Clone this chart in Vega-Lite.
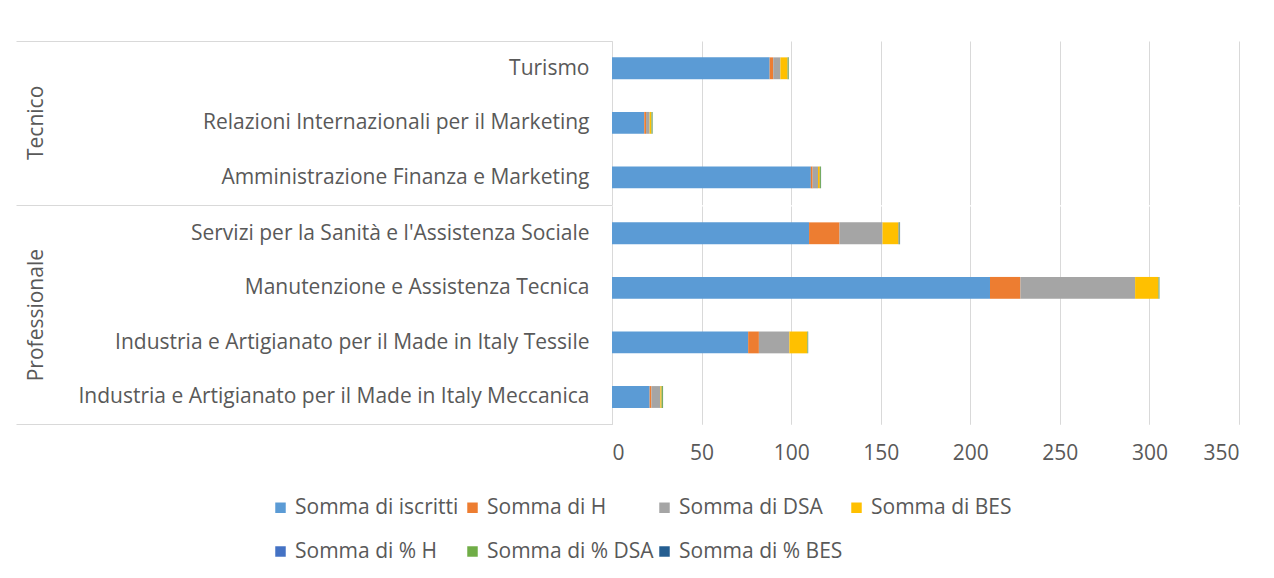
{
  "$schema": "https://vega.github.io/schema/vega-lite/v6.json",
  "background": "white",
  "padding": {"left": 15, "top": 40, "right": 18, "bottom": 0},
  "config": {"view": {"stroke": null}, "font": "Open Sans"},
  "data": {"values": [
    {"group": "Tecnico", "cat": "Turismo", "series": "Somma di iscritti", "value": 88},
    {"group": "Tecnico", "cat": "Turismo", "series": "Somma di H", "value": 2},
    {"group": "Tecnico", "cat": "Turismo", "series": "Somma di DSA", "value": 4},
    {"group": "Tecnico", "cat": "Turismo", "series": "Somma di BES", "value": 4},
    {"group": "Tecnico", "cat": "Turismo", "series": "Somma di % H", "value": 0.1},
    {"group": "Tecnico", "cat": "Turismo", "series": "Somma di % DSA", "value": 0.5},
    {"group": "Tecnico", "cat": "Turismo", "series": "Somma di % BES", "value": 0.1},
    {"group": "Tecnico", "cat": "Relazioni Internazionali per il Marketing", "series": "Somma di iscritti", "value": 18},
    {"group": "Tecnico", "cat": "Relazioni Internazionali per il Marketing", "series": "Somma di H", "value": 1},
    {"group": "Tecnico", "cat": "Relazioni Internazionali per il Marketing", "series": "Somma di DSA", "value": 2},
    {"group": "Tecnico", "cat": "Relazioni Internazionali per il Marketing", "series": "Somma di BES", "value": 1},
    {"group": "Tecnico", "cat": "Relazioni Internazionali per il Marketing", "series": "Somma di % H", "value": 0.1},
    {"group": "Tecnico", "cat": "Relazioni Internazionali per il Marketing", "series": "Somma di % DSA", "value": 0.5},
    {"group": "Tecnico", "cat": "Relazioni Internazionali per il Marketing", "series": "Somma di % BES", "value": 0.1},
    {"group": "Tecnico", "cat": "Amministrazione Finanza e Marketing", "series": "Somma di iscritti", "value": 111},
    {"group": "Tecnico", "cat": "Amministrazione Finanza e Marketing", "series": "Somma di H", "value": 1},
    {"group": "Tecnico", "cat": "Amministrazione Finanza e Marketing", "series": "Somma di DSA", "value": 3},
    {"group": "Tecnico", "cat": "Amministrazione Finanza e Marketing", "series": "Somma di BES", "value": 1},
    {"group": "Tecnico", "cat": "Amministrazione Finanza e Marketing", "series": "Somma di % H", "value": 0.1},
    {"group": "Tecnico", "cat": "Amministrazione Finanza e Marketing", "series": "Somma di % DSA", "value": 0.5},
    {"group": "Tecnico", "cat": "Amministrazione Finanza e Marketing", "series": "Somma di % BES", "value": 0.1},
    {"group": "Professionale", "cat": "Servizi per la Sanità e l'Assistenza Sociale", "series": "Somma di iscritti", "value": 110},
    {"group": "Professionale", "cat": "Servizi per la Sanità e l'Assistenza Sociale", "series": "Somma di H", "value": 17},
    {"group": "Professionale", "cat": "Servizi per la Sanità e l'Assistenza Sociale", "series": "Somma di DSA", "value": 24},
    {"group": "Professionale", "cat": "Servizi per la Sanità e l'Assistenza Sociale", "series": "Somma di BES", "value": 9},
    {"group": "Professionale", "cat": "Servizi per la Sanità e l'Assistenza Sociale", "series": "Somma di % H", "value": 0.3},
    {"group": "Professionale", "cat": "Servizi per la Sanità e l'Assistenza Sociale", "series": "Somma di % DSA", "value": 0.3},
    {"group": "Professionale", "cat": "Servizi per la Sanità e l'Assistenza Sociale", "series": "Somma di % BES", "value": 0.2},
    {"group": "Professionale", "cat": "Manutenzione e Assistenza Tecnica", "series": "Somma di iscritti", "value": 211},
    {"group": "Professionale", "cat": "Manutenzione e Assistenza Tecnica", "series": "Somma di H", "value": 17},
    {"group": "Professionale", "cat": "Manutenzione e Assistenza Tecnica", "series": "Somma di DSA", "value": 64},
    {"group": "Professionale", "cat": "Manutenzione e Assistenza Tecnica", "series": "Somma di BES", "value": 13},
    {"group": "Professionale", "cat": "Manutenzione e Assistenza Tecnica", "series": "Somma di % H", "value": 0.1},
    {"group": "Professionale", "cat": "Manutenzione e Assistenza Tecnica", "series": "Somma di % DSA", "value": 0.4},
    {"group": "Professionale", "cat": "Manutenzione e Assistenza Tecnica", "series": "Somma di % BES", "value": 0.1},
    {"group": "Professionale", "cat": "Industria e Artigianato per il Made in Italy Tessile", "series": "Somma di iscritti", "value": 76},
    {"group": "Professionale", "cat": "Industria e Artigianato per il Made in Italy Tessile", "series": "Somma di H", "value": 6},
    {"group": "Professionale", "cat": "Industria e Artigianato per il Made in Italy Tessile", "series": "Somma di DSA", "value": 17},
    {"group": "Professionale", "cat": "Industria e Artigianato per il Made in Italy Tessile", "series": "Somma di BES", "value": 10},
    {"group": "Professionale", "cat": "Industria e Artigianato per il Made in Italy Tessile", "series": "Somma di % H", "value": 0.1},
    {"group": "Professionale", "cat": "Industria e Artigianato per il Made in Italy Tessile", "series": "Somma di % DSA", "value": 0.3},
    {"group": "Professionale", "cat": "Industria e Artigianato per il Made in Italy Tessile", "series": "Somma di % BES", "value": 0.1},
    {"group": "Professionale", "cat": "Industria e Artigianato per il Made in Italy Meccanica", "series": "Somma di iscritti", "value": 21},
    {"group": "Professionale", "cat": "Industria e Artigianato per il Made in Italy Meccanica", "series": "Somma di H", "value": 1},
    {"group": "Professionale", "cat": "Industria e Artigianato per il Made in Italy Meccanica", "series": "Somma di DSA", "value": 5},
    {"group": "Professionale", "cat": "Industria e Artigianato per il Made in Italy Meccanica", "series": "Somma di BES", "value": 0.7},
    {"group": "Professionale", "cat": "Industria e Artigianato per il Made in Italy Meccanica", "series": "Somma di % H", "value": 0.1},
    {"group": "Professionale", "cat": "Industria e Artigianato per il Made in Italy Meccanica", "series": "Somma di % DSA", "value": 0.6},
    {"group": "Professionale", "cat": "Industria e Artigianato per il Made in Italy Meccanica", "series": "Somma di % BES", "value": 0.1}
  ]},
  "facet": {
    "row": {
      "field": "group",
      "type": "nominal",
      "sort": ["Tecnico", "Professionale"],
      "header": {
        "title": null,
        "labelAngle": -90,
        "labelOrient": "left",
        "labelFont": "Open Sans",
        "labelFontSize": 21,
        "labelColor": "#595959",
        "labelPadding": -43
      }
    }
  },
  "spacing": 0,
  "resolve": {"scale": {"y": "independent"}},
  "spec": {
    "width": 627,
    "height": {"step": 54.57},
    "mark": {"type": "bar", "height": {"band": 0.4}},
    "encoding": {
      "y": {
        "field": "cat",
        "type": "nominal",
        "sort": "descending",
        "scale": {"paddingInner": 0, "paddingOuter": 0},
        "axis": {
          "title": null,
          "domain": true,
          "domainColor": "#d9d9d9",
          "domainWidth": 1,
          "grid": false,
          "tickBand": "extent",
          "tickSize": 596,
          "tickColor": "#d9d9d9",
          "tickWidth": 1,
          "tickOpacity": {"condition": {"test": "datum.index === 1 || (datum.index < 0 && datum.extra && datum.extra.value === 'Turismo')", "value": 1}, "value": 0},
          "labelFontSize": {"condition": {"test": "!datum.label", "value": 0}, "value": 21},
          "labelPadding": -573,
          "labelFont": "Open Sans",
          "labelColor": "#595959",
          "labelLimit": 0
        }
      },
      "x": {
        "field": "value",
        "type": "quantitative",
        "stack": "zero",
        "scale": {"domain": [0, 350], "nice": false},
        "axis": {
          "title": null,
          "values": [0, 50, 100, 150, 200, 250, 300, 350],
          "domain": false,
          "ticks": false,
          "grid": true,
          "gridColor": "#d9d9d9",
          "gridWidth": 1,
          "labelPadding": 17,
          "labelFont": "Open Sans",
          "labelFontSize": 21,
          "labelColor": "#595959"
        }
      },
      "order": {"field": "series", "sort": "descending"},
      "color": {
        "field": "series",
        "type": "nominal",
        "scale": {
          "domain": ["Somma di iscritti", "Somma di H", "Somma di DSA", "Somma di BES", "Somma di % H", "Somma di % DSA", "Somma di % BES"],
          "range": ["#5B9BD5", "#ED7D31", "#A5A5A5", "#FFC000", "#4472C4", "#70AD47", "#255E91"]
        },
        "legend": {
          "title": null,
          "orient": "none",
          "legendX": -342,
          "legendY": 456,
          "direction": "horizontal",
          "columns": 4,
          "gridAlign": "all",
          "symbolType": "square",
          "symbolSize": 110,
          "symbolStrokeWidth": 0,
          "labelFont": "Open Sans",
          "labelFontSize": 21,
          "labelColor": "#595959",
          "labelOffset": 4,
          "columnPadding": 0,
          "rowPadding": 22,
          "labelLimit": 0
        }
      }
    }
  }
}
